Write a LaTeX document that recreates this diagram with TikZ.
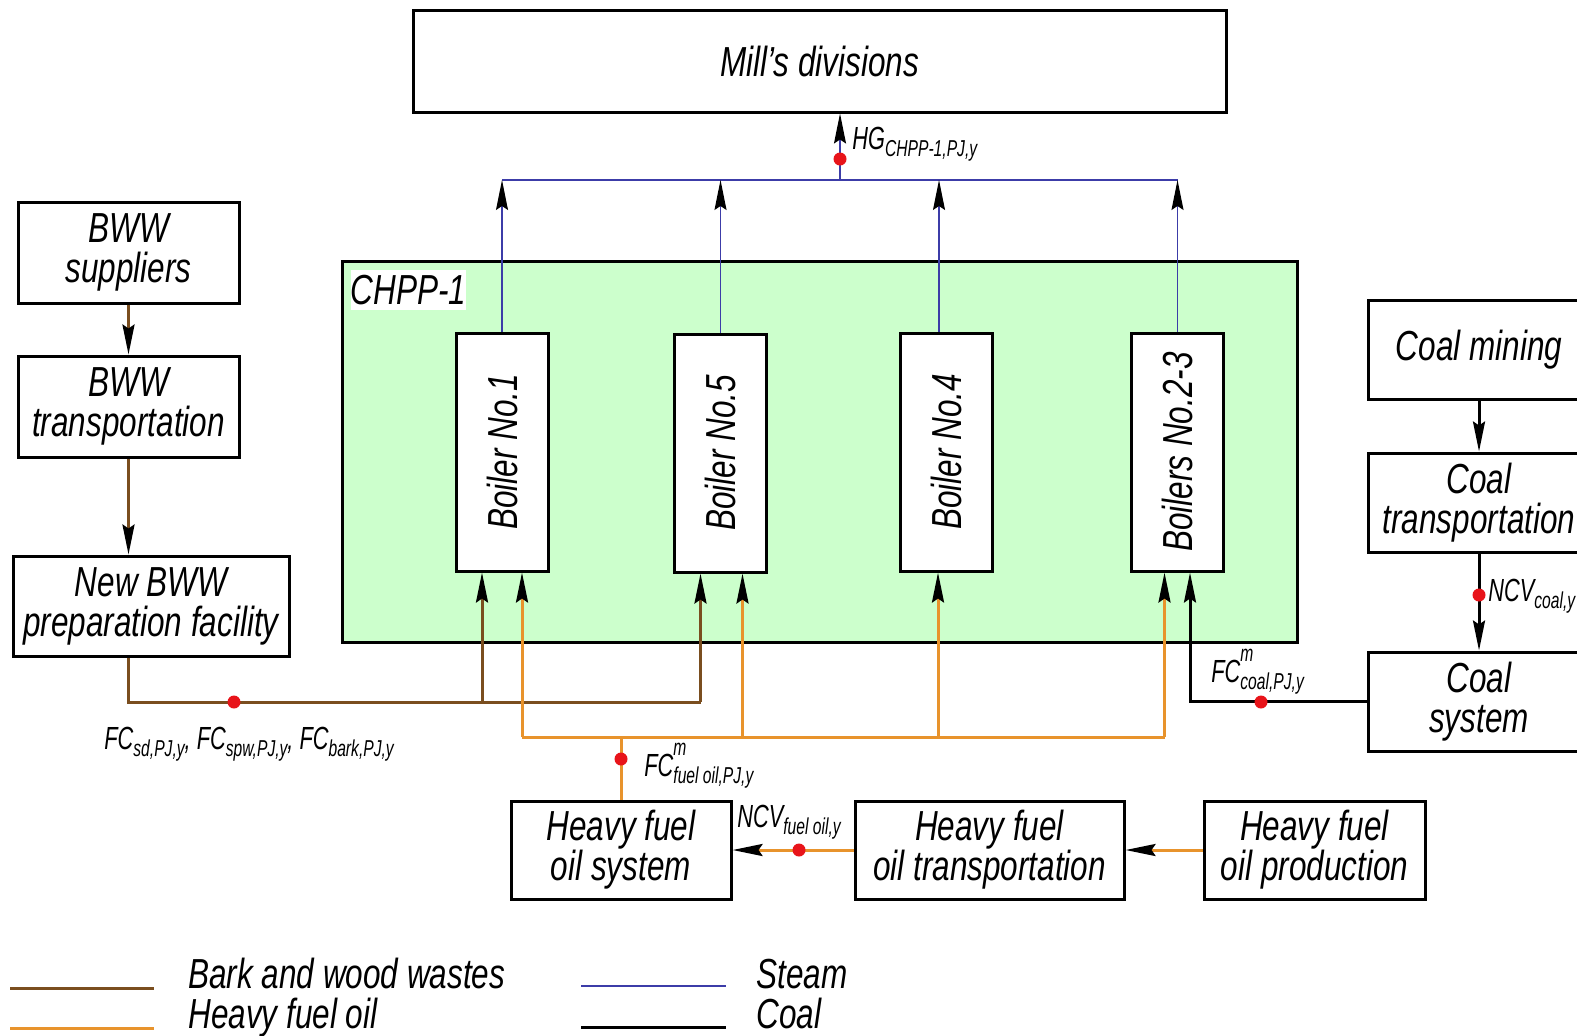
\documentclass[tikz,border=0pt]{standalone}
\usepackage{fontspec}
\setmainfont{Liberation Sans}[FakeStretch=0.75]
\newfontfamily\tagfont{Liberation Sans}[FakeStretch=0.68]
\usetikzlibrary{arrows.meta,calc,positioning}
\definecolor{bww}{HTML}{7A4E1F}
\definecolor{fueloil}{HTML}{E8932C}
\definecolor{steam}{HTML}{3C3CA8}
\definecolor{chpp}{HTML}{CCFFCC}
\definecolor{meter}{HTML}{E8141A}
\newcommand{\msub}[1]{\raisebox{-0.45ex}{\fontsize{11.5}{11.5}\selectfont #1}}
\newcommand{\msup}[1]{\rlap{\raisebox{1.2ex}{\fontsize{11.5}{11.5}\selectfont #1}}}

\begin{document}
\begin{tikzpicture}[x=0.5pt,y=-0.5pt,
    unit/.style={draw=black,line width=1.5pt,fill=white,align=center,inner sep=1pt,font=\itshape\fontsize{21}{20}\selectfont},
    boiler/.style={unit,minimum width=46pt,minimum height=119pt},
    tag/.style={font=\tagfont\itshape\fontsize{16}{18}\selectfont,inner sep=0pt,anchor=base west},
    key/.style={font=\itshape\fontsize{21}{20}\selectfont,inner sep=0pt,anchor=base west},
    meter/.style={circle,fill=meter,inner sep=0pt,minimum size=6.5pt},
    tip/.style={-{Stealth[length=15pt,width=6pt,inset=2pt,color=black]}},
    bwwline/.style={draw=bww,line width=1.5pt},
    oilline/.style={draw=fueloil,line width=1.5pt},
    coalline/.style={draw=black,line width=1.5pt},
    steamline/.style={draw=steam,line width=0.6pt}
  ]
  \useasboundingbox (0,0) rectangle (1577,1035);

  % plant boundary
  \node[draw,line width=1.5pt,fill=chpp,minimum width=477.5pt,minimum height=190.5pt] (chpp) at (819.5,451.5) {};
  \node[fill=white,font=\itshape\fontsize{21}{20}\selectfont,minimum width=55pt,minimum height=20pt,inner sep=0pt,
        below right=5pt and 5pt of chpp.north west] (chpptag) {CHPP-1};

  % units
  \node[unit,minimum width=406.5pt,minimum height=51pt] (mill) at (819.5,61) {Mill's divisions};
  \node[unit,minimum width=110.5pt,minimum height=50.5pt] (sup) at (128.5,252.5) {BWW\\suppliers};
  \node[unit,minimum width=110.5pt,minimum height=50.5pt] (trn) at (128.5,406.5) {BWW\\transportation};
  \node[unit,minimum width=138pt,minimum height=50pt] (prep) at (151,606) {New BWW\\preparation facility};
  \node[boiler] (b1) at (502,452) {\rotatebox{90}{Boiler No.1}};
  \node[boiler] (b5) at (720.5,453) {\rotatebox{90}{Boiler No.5}};
  \node[boiler] (b4) at (946,452) {\rotatebox{90}{Boiler No.4}};
  \node[boiler] (b23) at (1177.5,452) {\rotatebox{90}{Boilers No.2-3}};
  \node[unit,minimum width=110.5pt,minimum height=49.5pt] (cmin) at (1479,349.5) {Coal mining};
  \node[unit,minimum width=110.5pt,minimum height=49.5pt] (ctrn) at (1479,502.5) {Coal\\transportation};
  \node[unit,minimum width=110.5pt,minimum height=49.5pt] (csys) at (1479,701.5) {Coal\\system};
  \node[unit,minimum width=110pt,minimum height=49pt] (hsys) at (621,850) {Heavy fuel\\oil system};
  \node[unit,minimum width=134.5pt,minimum height=49pt] (htrn) at (989.5,850) {Heavy fuel\\oil transportation};
  \node[unit,minimum width=110.5pt,minimum height=49pt] (hprd) at (1314.5,850) {Heavy fuel\\oil production};

  % junctions
  \coordinate (hdr) at (840,180);
  \coordinate (bwwbus) at (0,702);
  \coordinate (oilbus) at (0,737);
  \coordinate (w1) at ($(b1.south)+(-20,0)$);
  \coordinate (w5) at ($(b5.south)+(-20,0)$);
  \coordinate (o1) at ($(b1.south)+(20,0)$);
  \coordinate (o5) at ($(b5.south)+(22,0)$);
  \coordinate (o4) at ($(b4.south)+(-8,0)$);
  \coordinate (o23) at ($(b23.south)+(-13,0)$);
  \coordinate (c23) at ($(b23.south)+(12.5,0)$);
  \coordinate (s4) at ($(b4.north)+(-7,0)$);

  % steam
  \draw[steamline] (b1.north |- hdr) -- (b23.north |- hdr);
  \foreach \b in {b1.north,b5.north,s4,b23.north}
    \draw[steamline,tip] (\b) -- (\b |- hdr);
  \draw[steamline,tip] (hdr) -- (mill.south -| hdr);

  % bark and wood wastes
  \draw[bwwline,tip] (sup) -- (trn);
  \draw[bwwline,tip] (trn.south) -- (trn.south |- prep.north);
  \draw[bwwline] (prep.south -| trn.south) |- (w5 |- bwwbus);
  \draw[bwwline,tip] (w5 |- bwwbus) -- (w5);
  \draw[bwwline,tip] (w1 |- bwwbus) -- (w1);

  % heavy fuel oil
  \draw[oilline,tip] (hprd) -- (htrn);
  \draw[oilline,tip] (htrn) -- (hsys);
  \draw[oilline] (hsys.north) -- (hsys.north |- oilbus);
  \draw[oilline] (o1 |- oilbus) -- (o23 |- oilbus);
  \foreach \o in {o1,o5,o4,o23}
    \draw[oilline,tip] (\o |- oilbus) -- (\o);

  % coal
  \draw[coalline,tip] (cmin) -- (ctrn);
  \draw[coalline,tip] (ctrn) -- (csys);
  \draw[coalline,tip] (csys.west) -| (c23);

  % metering points
  \node[meter] (mhg) at (840,159) {};
  \node[meter] (mbww) at (234,702) {};
  \node[meter] (moil) at (621,759) {};
  \node[meter] (mncvo) at (799,850) {};
  \node[meter] (mcoal) at (1261,702) {};
  \node[meter] (mncvc) at (1479,595) {};

  \node[tag] (lhg) at (852,149) {HG\msub{CHPP-1,PJ,y}};
  \node[tag] (lbww) at (104,749) {FC\msub{sd,PJ,y}, FC\msub{spw,PJ,y}, FC\msub{bark,PJ,y}};
  \node[tag] (loil) at (644,776) {FC\msup{m}\msub{fuel oil,PJ,y}};
  \node[tag] (lncvo) at (737,827) {NCV\msub{fuel oil,y}};
  \node[tag] (lcoal) at (1211,682) {FC\msup{m}\msub{coal,PJ,y}};
  \node[tag] (lncvc) at (1488,601) {NCV\msub{coal,y}};

  % legend
  \draw[bwwline] (10,988) -- (154,988);
  \draw[oilline] (10,1028) -- (154,1028);
  \draw[steamline] (581,986) -- (726,986);
  \draw[coalline] (581,1027) -- (726,1027);
  \node[key] (kbww) at (188,988) {Bark and wood wastes};
  \node[key] (koil) at (188,1028) {Heavy fuel oil};
  \node[key] (ksteam) at (756,988) {Steam};
  \node[key] (kcoal) at (756,1028) {Coal};
\end{tikzpicture}
\end{document}
